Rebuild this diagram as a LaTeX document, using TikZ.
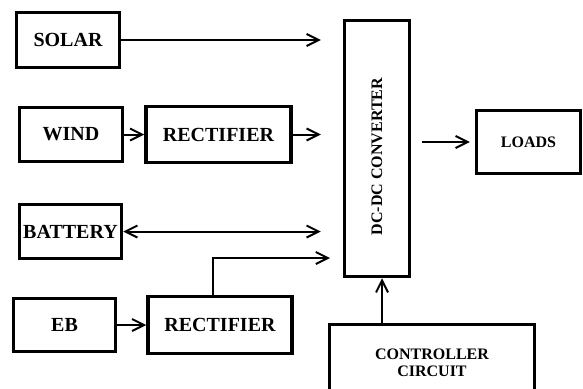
\documentclass[tikz,border=0pt]{standalone}
\usepackage{fontspec}
\setmainfont{Liberation Serif}
\usetikzlibrary{arrows.meta, positioning}

\begin{document}
\begin{tikzpicture}[
    x=1pt, y=-1pt,
    node distance=20pt,
    block/.style={rectangle, draw, line width=3.5pt, inner sep=0pt, font=\fontsize{20}{22}\selectfont\bfseries},
    smallblock/.style={block, align=center, font=\fontsize{16}{17.5}\selectfont\bfseries},
    arrow/.style={line width=2pt, -{Straight Barb[length=12pt,width=12pt]}},
    dblarrow/.style={line width=2pt, {Straight Barb[length=12pt,width=12pt]}-{Straight Barb[length=12pt,width=12pt]}}
]
\clip (0,0) rectangle (583,388);
\node[block, minimum width=103pt, minimum height=55pt] (solar) at (68,40) {SOLAR};
\node[block, minimum width=103pt, minimum height=54pt] (wind) at (71,134.5) {WIND};
\node[block, minimum width=145pt, minimum height=56pt, right=20pt of wind] (rect1) {RECTIFIER};
\node[block, minimum width=102pt, minimum height=54pt] (battery) at (70.5,231.5) {BATTERY};
\node[block, minimum width=102pt, minimum height=53pt] (eb) at (64.5,325) {EB};
\node[block, minimum width=144pt, minimum height=57pt, right=29pt of eb] (rect2) {RECTIFIER};
\node[smallblock, minimum width=65pt, minimum height=256pt] (dcdc) at (377,148.5) {\rotatebox{90}{DC-DC CONVERTER\hspace{16pt}}};
\node[smallblock, minimum width=104pt, minimum height=63pt] (loads) at (528.5,142) {LOADS};
\node[smallblock, minimum width=205pt, minimum height=77pt] (ctrl) at (432,363) {CONTROLLER\\CIRCUIT};
\coordinate (ebin) at (330,258);

\draw[arrow, shorten >=22pt] (solar) -- (solar -| dcdc.west);
\draw[arrow] (wind.east) -- (wind.east -| rect1.west);
\draw[arrow, shorten >=22pt] (rect1.east) -- (rect1.east -| dcdc.west);
\draw[dblarrow, shorten >=22pt] (battery.east) -- (battery.east -| dcdc.west);
\draw[arrow] (eb.east) -- (eb.east -| rect2.west);
\draw[arrow] ([xshift=-7pt]rect2.north) |- (ebin);
\draw[arrow, shorten <=11pt, shorten >=5pt] (dcdc.east |- loads) -- (loads.west);
\draw[arrow] ([xshift=5pt]dcdc.south |- ctrl.north) -- ([xshift=5pt]dcdc.south);
\end{tikzpicture}
\end{document}
